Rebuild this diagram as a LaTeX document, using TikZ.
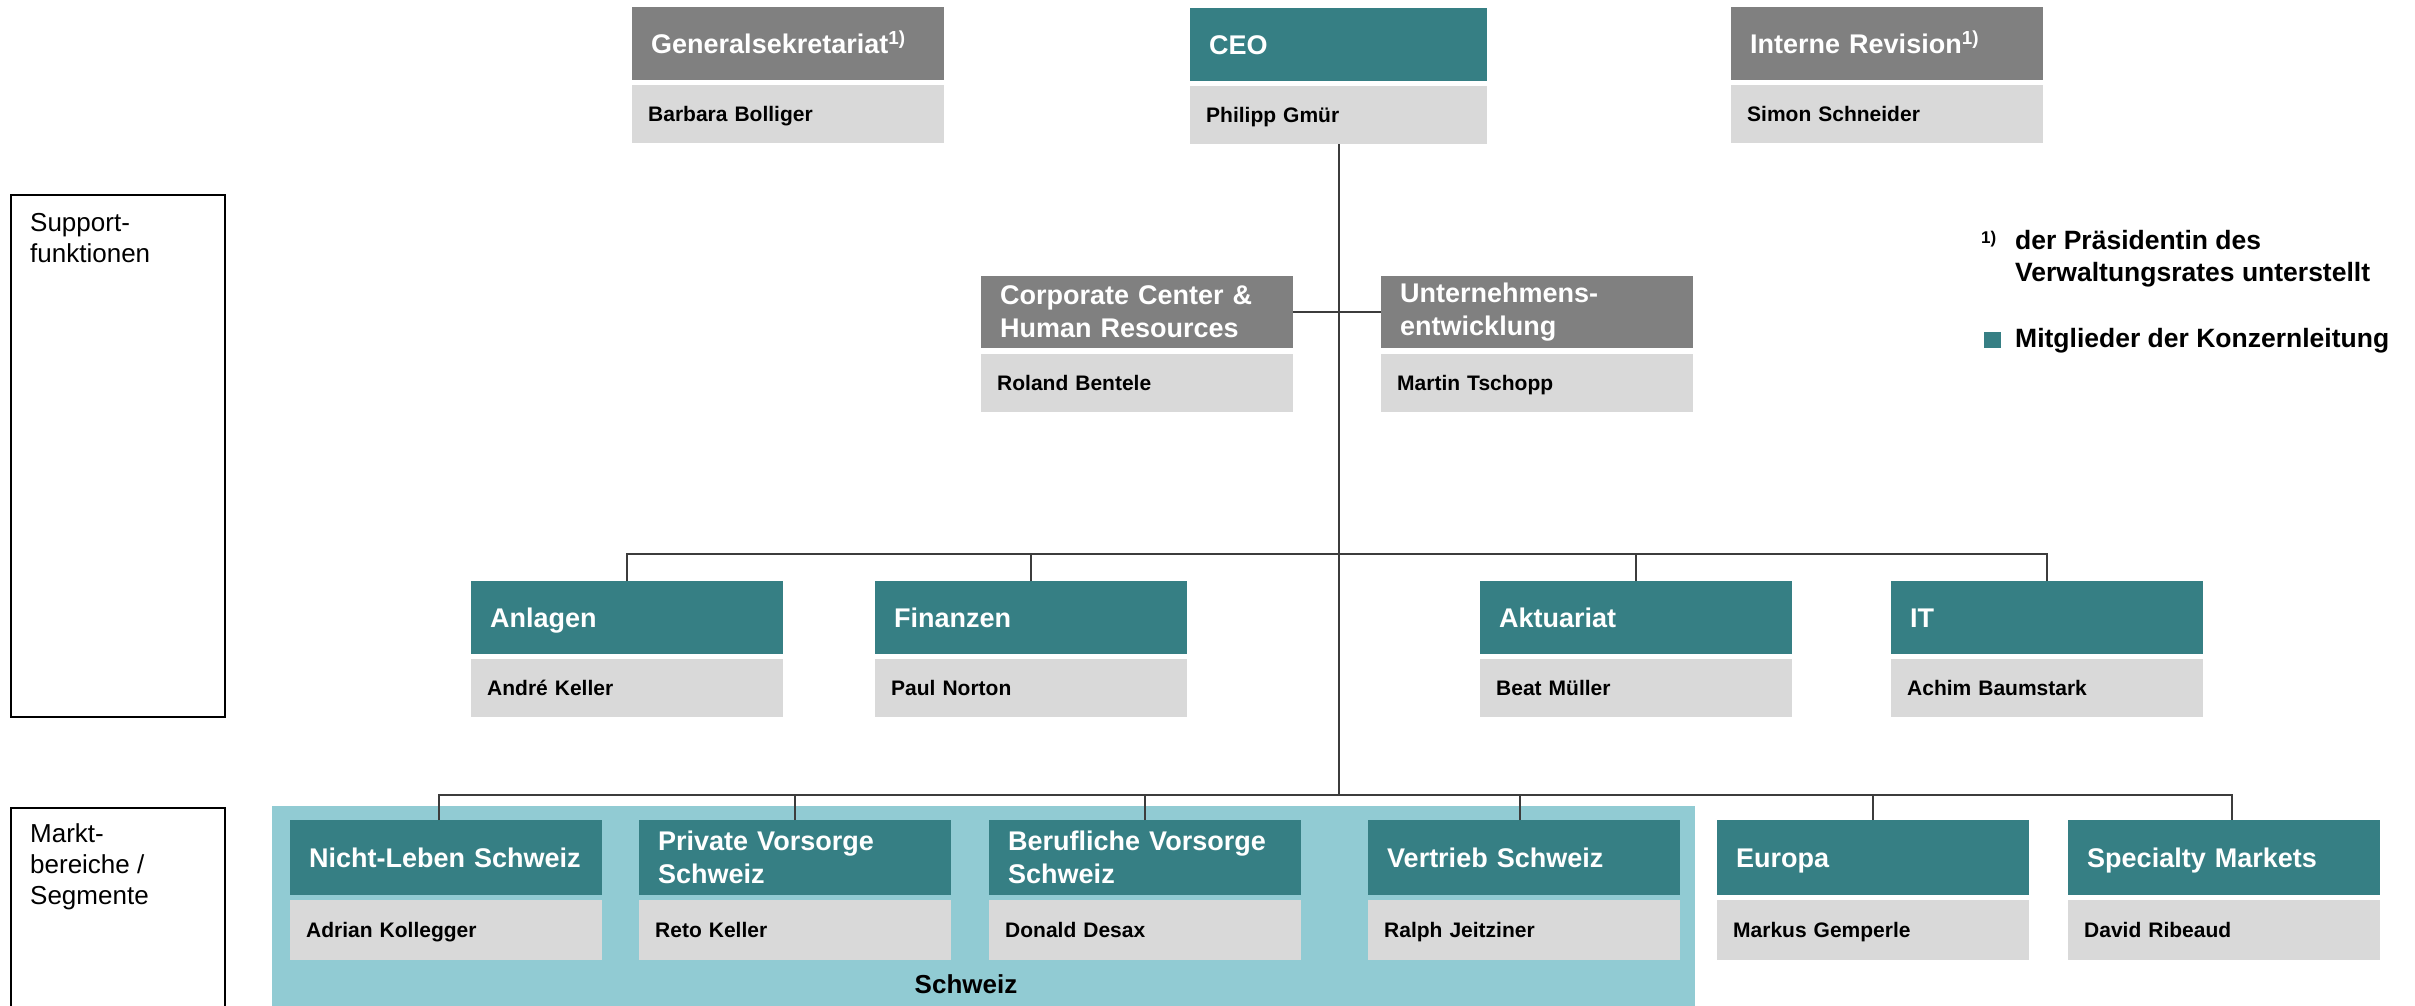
\documentclass[tikz,border=0pt]{standalone}
\usepackage{fontspec}
\setmainfont{Liberation Sans}
\definecolor{kteal}{RGB}{54,127,132}
\definecolor{kgray}{RGB}{128,128,128}
\definecolor{kname}{RGB}{217,217,217}
\definecolor{kbg}{RGB}{145,203,211}
\definecolor{kline}{RGB}{60,60,60}
\begin{document}
\begin{tikzpicture}[x=1pt,y=-1pt,
  hdr/.style={anchor=north west, minimum height=73, inner xsep=19, inner ysep=0,
    text width=274, align=left, text=white, font=\bfseries\fontsize{27}{33}\selectfont},
  one/.style={text height=19.5, text depth=0},
  hdrt/.style={hdr, fill=kteal},
  hdrg/.style={hdr, fill=kgray},
  nm/.style={anchor=north west, fill=kname, minimum height=58, inner xsep=16, inner ysep=0,
    text width=280, align=left, text height=15.2, text depth=0,
    font=\bfseries\fontsize{21}{25}\selectfont},
  conn/.style={draw=kline, line width=2},
  sidebox/.style={draw=black, line width=2, anchor=north west, minimum width=214, inner sep=0},
  sidetxt/.style={anchor=north west, inner sep=0, align=left, font=\fontsize{26}{31}\selectfont},
  legtxt/.style={inner sep=0, align=left, font=\bfseries\fontsize{26.5}{32}\selectfont}
]
\useasboundingbox (0,0) rectangle (2415,1006);

% Schweiz background
\node[fill=kbg, anchor=north west, minimum width=1423, minimum height=210, inner sep=0] (chbg) at (272,806) {};
\node[anchor=base, inner sep=0, font=\bfseries\fontsize{26}{31}\selectfont] (chl) at (966,993) {Schweiz};

% side labels
\node[sidebox, minimum height=522] (supbox) at (10,194) {};
\node[sidetxt] (suptxt) at (30,213) {Support-\\funktionen};
\node[sidebox, minimum height=210] (mktbox) at (10,807) {};
\node[sidetxt] (mkttxt) at (30,823) {Markt-\\bereiche /\\Segmente};

% row 0
\node[hdrg, one] (gen) at (632,7) {Generalsekretariat\textsuperscript{1)}};
\node[nm] (genn) at (632,85) {Barbara Bolliger};
\node[hdrt, one, text width=259] (ceo) at (1190,8) {CEO};
\node[nm, text width=265] (ceon) at (1190,86) {Philipp Gmür};
\node[hdrg, one] (ir) at (1731,7) {Interne Revision\textsuperscript{1)}};
\node[nm] (irn) at (1731,85) {Simon Schneider};

% row 1
\node[hdrg, minimum height=72] (cc) at (981,276) {Corporate Center \&\\Human Resources};
\node[nm] (ccn) at (981,354) {Roland Bentele};
\node[hdrg, minimum height=72] (ue) at (1381,276) {Unternehmens-\\entwicklung};
\node[nm] (uen) at (1381,354) {Martin Tschopp};

% row 2
\node[hdrt, one] (anl) at (471,581) {Anlagen};
\node[nm] (anln) at (471,659) {André Keller};
\node[hdrt, one] (fin) at (875,581) {Finanzen};
\node[nm] (finn) at (875,659) {Paul Norton};
\node[hdrt, one] (akt) at (1480,581) {Aktuariat};
\node[nm] (aktn) at (1480,659) {Beat Müller};
\node[hdrt, one] (it) at (1891,581) {IT};
\node[nm] (itn) at (1891,659) {Achim Baumstark};

% row 3
\node[hdrt, one, minimum height=75] (nl) at (290,820) {Nicht-Leben Schweiz};
\node[nm, minimum height=60] (nln) at (290,900) {Adrian Kollegger};
\node[hdrt, minimum height=75] (pv) at (639,820) {Private Vorsorge\\Schweiz};
\node[nm, minimum height=60] (pvn) at (639,900) {Reto Keller};
\node[hdrt, minimum height=75] (bv) at (989,820) {Berufliche Vorsorge\\Schweiz};
\node[nm, minimum height=60] (bvn) at (989,900) {Donald Desax};
\node[hdrt, one, minimum height=75] (vs) at (1368,820) {Vertrieb Schweiz};
\node[nm, minimum height=60] (vsn) at (1368,900) {Ralph Jeitziner};
\node[hdrt, one, minimum height=75] (eu) at (1717,820) {Europa};
\node[nm, minimum height=60] (eun) at (1717,900) {Markus Gemperle};
\node[hdrt, one, minimum height=75] (sm) at (2068,820) {Specialty Markets};
\node[nm, minimum height=60] (smn) at (2068,900) {David Ribeaud};

% legend
\node[anchor=base west, inner sep=0, font=\bfseries\fontsize{17}{17}\selectfont] (fn) at (1981,243) {1)};
\node[legtxt, anchor=north west] (fntxt) at (2015,230) {der Präsidentin des\\Verwaltungsrates unterstellt};
\node[fill=kteal, anchor=north west, minimum width=17, minimum height=16, inner sep=0] (lsq) at (1984,332) {};
\node[legtxt, anchor=base west] (ltxt) at (2015,347) {Mitglieder der Konzernleitung};

% connectors
\coordinate (b2) at (1336,554);
\coordinate (b3) at (1336,795);
\coordinate (b3end) at (2232,795);
\draw[conn] (ceon.south) -- (ceon.south |- b3);
\draw[conn] (cc.east) -- (ue.west);
\draw[conn] (anl.north) -- (anl.north |- b2) -| (it.north);
\draw[conn] (fin.north) -- (fin.north |- b2);
\draw[conn] (akt.north) -- (akt.north |- b2);
\draw[conn] ([xshift=-7]nl.north) -- ([xshift=-7]nl.north |- b3) -- (b3end) -- (b3end |- sm.north);
\draw[conn] (pv.north) -- (pv.north |- b3);
\draw[conn] (bv.north) -- (bv.north |- b3);
\draw[conn] ([xshift=-4]vs.north) -- ([xshift=-4]vs.north |- b3);
\draw[conn] (eu.north) -- (eu.north |- b3);
\end{tikzpicture}
\end{document}
